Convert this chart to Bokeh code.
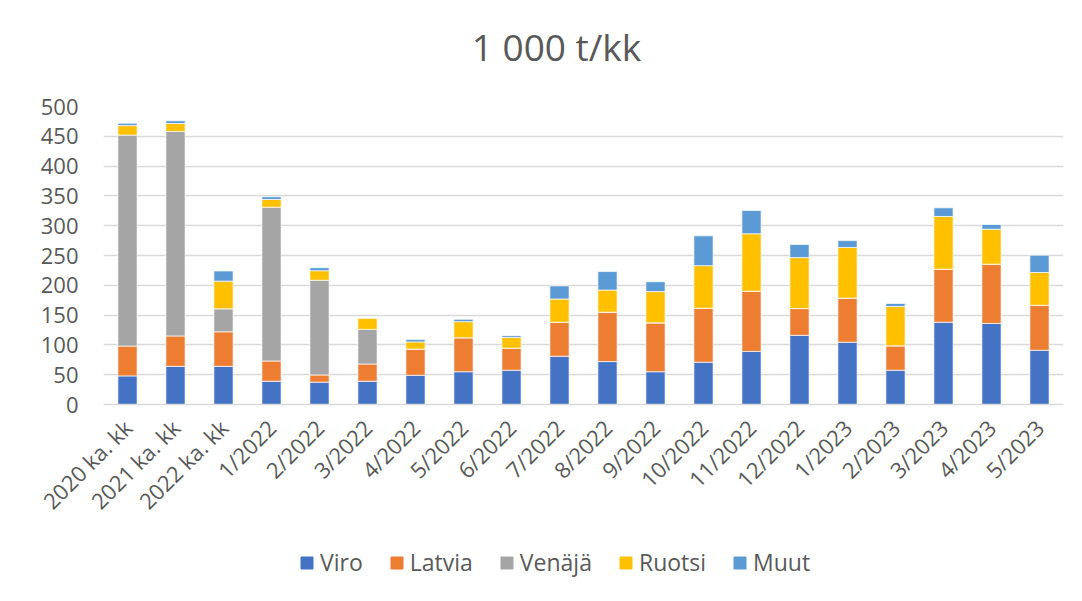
import math
from bokeh.plotting import figure
from bokeh.layouts import column
from bokeh.models import FactorRange, Legend, LegendItem, Label, SingleIntervalTicker, ColumnDataSource
from bokeh.embed import file_html
from bokeh.resources import INLINE

categories = ["2020 ka. kk", "2021 ka. kk", "2022 ka. kk", "1/2022", "2/2022", "3/2022",
              "4/2022", "5/2022", "6/2022", "7/2022", "8/2022", "9/2022", "10/2022",
              "11/2022", "12/2022", "1/2023", "2/2023", "3/2023", "4/2023", "5/2023"]
viro    = [48, 64, 64, 39, 37.5, 39, 49, 55, 57.5, 81, 72, 55, 71, 89, 116, 104.5, 57.5, 138, 136, 91]
latvia  = [50, 51, 58, 34, 12, 29, 44, 57, 37, 57, 83, 82, 90.5, 101, 45, 74, 41, 89, 99.5, 75.5]
venaja  = [354, 343, 38.5, 258, 159, 58, 0, 0, 0, 0, 0, 0, 0, 0, 0, 0, 0, 0, 0, 0]
ruotsi  = [16, 13.5, 46.5, 13, 16, 19, 12, 27, 18, 39, 37, 52.5, 71.5, 96.5, 85.5, 85, 66, 88.5, 58.5, 55]
muut    = [4, 4.5, 17, 4.5, 5, 0, 4, 4, 3, 22, 31, 16.5, 50, 39, 22, 11.5, 5, 14.5, 8, 29]

series = ["Viro", "Latvia", "Venäjä", "Ruotsi", "Muut"]
colors = ["#4472C4", "#ED7D31", "#A5A5A5", "#FFC000", "#5B9BD5"]
title_text = "1 000 t/kk"

source = ColumnDataSource(dict(cat=categories, Viro=viro, Latvia=latvia,
                               **{"Venäjä": venaja}, Ruotsi=ruotsi, Muut=muut))

FONT = "Open Sans"
TXT = "#595959"
W = 1080

# ---- title strip ----
tf = figure(width=W, height=91, x_range=(103, 1063), y_range=(0, 91),
            output_backend="svg", toolbar_location=None,
            min_border_left=103, min_border_right=17, min_border_top=0, min_border_bottom=0)
tf.axis.visible = False
tf.grid.grid_line_color = None
tf.outline_line_color = None
tf.add_layout(Label(x=556, y=45, text=title_text, text_align="center", text_baseline="middle",
                    text_font=FONT, text_font_size="37px", text_color=TXT))

# ---- chart ----
p = figure(width=W, height=448, x_range=FactorRange(*categories, range_padding=0),
           y_range=(0, 500), output_backend="svg", toolbar_location=None,
           min_border_left=103, min_border_right=17, min_border_top=15, min_border_bottom=135)

p.vbar_stack(series, x="cat", width=0.4, color=colors, source=source,
             line_color="white", line_width=0.7)

p.yaxis.ticker = SingleIntervalTicker(interval=50)
p.yaxis.axis_line_color = None
p.yaxis.major_tick_line_color = None
p.yaxis.minor_tick_line_color = None
p.yaxis.major_label_text_font = FONT
p.yaxis.major_label_text_font_size = "22px"
p.yaxis.major_label_text_color = TXT
p.yaxis.major_label_standoff = 19

p.xaxis.axis_line_color = "#d9d9d9"
p.xaxis.axis_line_width = 1.5
p.xaxis.major_tick_line_color = None
p.xaxis.minor_tick_line_color = None
p.xaxis.major_label_orientation = math.pi / 4
p.xaxis.major_label_text_font = FONT
p.xaxis.major_label_text_font_size = "22px"
p.xaxis.major_label_text_color = TXT
p.xaxis.major_label_standoff = 13

p.xgrid.grid_line_color = None
p.ygrid.grid_line_color = "#d9d9d9"
p.ygrid.grid_line_width = 1.5
p.outline_line_color = None

# ---- legend strip (hidden copy of the bars; only the legend shows) ----
lg = figure(width=W, height=60, x_range=FactorRange(*categories, range_padding=0),
            y_range=(0, 500), output_backend="svg", toolbar_location=None,
            min_border_left=103, min_border_right=17, min_border_top=0, min_border_bottom=0)
lg.axis.visible = False
lg.grid.grid_line_color = None
lg.outline_line_color = None
leg_renderers = lg.vbar_stack(series, x="cat", width=0.4, color=colors, source=source)
for r in leg_renderers:
    r.visible = False

legend = Legend(items=[LegendItem(label=s, renderers=[r]) for s, r in zip(series, leg_renderers)],
                orientation="horizontal", location=(196, 21),
                label_text_font=FONT, label_text_font_size="23px", label_text_color=TXT,
                glyph_width=15, glyph_height=15, label_standoff=6, spacing=26,
                padding=0, margin=0, border_line_color=None, background_fill_alpha=0,
                inactive_fill_alpha=0)
lg.add_layout(legend, "center")

layout = column(tf, p, lg, spacing=0)
open("out.html", "w").write(file_html(layout, INLINE))
